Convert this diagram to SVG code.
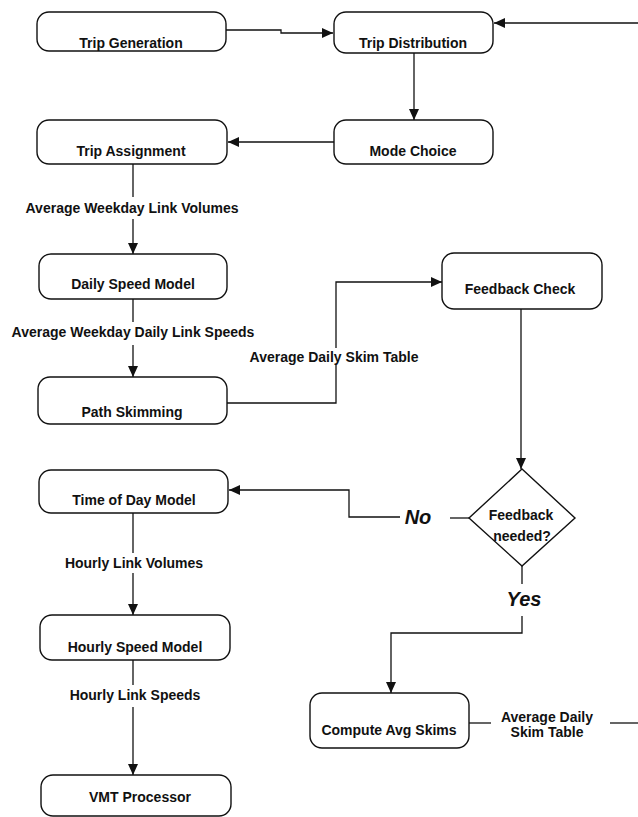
<svg xmlns="http://www.w3.org/2000/svg" width="638" height="817" viewBox="0 0 638 817">
<style>
.box{fill:#fff;stroke:#111;stroke-width:1.4}
.t{font-family:"Liberation Sans",Arial,sans-serif;font-weight:bold;font-size:14px;fill:#111;text-anchor:middle}
.yn{font-family:"Liberation Sans",Arial,sans-serif;font-weight:bold;font-style:italic;font-size:20px;fill:#111;text-anchor:middle}
.c{fill:none;stroke:#111;stroke-width:1.3}
</style>
<defs>
<marker id="ah" markerUnits="userSpaceOnUse" markerWidth="12" markerHeight="10" refX="11" refY="5" orient="auto">
<path d="M0,0 L11,5 L0,10 z" fill="#111"/>
</marker>
</defs>
<rect width="638" height="817" fill="#fff"/>
<g id="connectors">
<path class="c" d="M226,30 H281 V33 H333" marker-end="url(#ah)"/>
<path class="c" d="M638,23 H494" marker-end="url(#ah)"/>
<path class="c" d="M414,53 V120" marker-end="url(#ah)"/>
<path class="c" d="M334,142 H228" marker-end="url(#ah)"/>
<path class="c" d="M133,164 V197"/>
<path class="c" d="M133,219 V254" marker-end="url(#ah)"/>
<path class="c" d="M133,299 V322"/>
<path class="c" d="M133,345 V377" marker-end="url(#ah)"/>
<path class="c" d="M227,403 H336 V365"/>
<path class="c" d="M336,348 V282 H442" marker-end="url(#ah)"/>
<path class="c" d="M521,309 V469" marker-end="url(#ah)"/>
<path class="c" d="M469,518 H450"/>
<path class="c" d="M400,517 H349 V490 H229" marker-end="url(#ah)"/>
<path class="c" d="M522,566 V584"/>
<path class="c" d="M522,616 V633 H391 V693" marker-end="url(#ah)"/>
<path class="c" d="M469,723 H491"/>
<path class="c" d="M610,723 H638"/>
<path class="c" d="M133,513 V553"/>
<path class="c" d="M133,573 V615" marker-end="url(#ah)"/>
<path class="c" d="M133,660 V685"/>
<path class="c" d="M133,707 V775" marker-end="url(#ah)"/>
<text class="t" x="132" y="213">Average Weekday Link Volumes</text>
<text class="t" x="133" y="337">Average Weekday Daily Link Speeds</text>
<text class="t" x="334" y="362">Average Daily Skim Table</text>
<text class="t" x="134" y="568">Hourly Link Volumes</text>
<text class="t" x="135" y="700">Hourly Link Speeds</text>
<text class="t" x="547" y="722">Average Daily</text>
<text class="t" x="547" y="737">Skim Table</text>
<text class="yn" x="418" y="524">No</text>
<text class="yn" x="524" y="606">Yes</text>
</g>
<g id="trip-generation"><rect class="box" x="37" y="12" width="189" height="39" rx="12"/><text class="t" x="131" y="48">Trip Generation</text></g>
<g id="trip-distribution"><rect class="box" x="334" y="12" width="159" height="41" rx="12"/><text class="t" x="413" y="48">Trip Distribution</text></g>
<g id="mode-choice"><rect class="box" x="334" y="120" width="159" height="44" rx="12"/><text class="t" x="413" y="156">Mode Choice</text></g>
<g id="trip-assignment"><rect class="box" x="37" y="120" width="190" height="44" rx="12"/><text class="t" x="131" y="156">Trip Assignment</text></g>
<g id="daily-speed-model"><rect class="box" x="39" y="254" width="188" height="45" rx="12"/><text class="t" x="133" y="289">Daily Speed Model</text></g>
<g id="feedback-check"><rect class="box" x="442" y="253" width="160" height="56" rx="12"/><text class="t" x="520" y="294">Feedback Check</text></g>
<g id="path-skimming"><rect class="box" x="38" y="377" width="189" height="47" rx="12"/><text class="t" x="132" y="417">Path Skimming</text></g>
<g id="feedback-needed"><polygon class="box" points="522,469 575,518 522,566 469,518"/><text class="t" x="521" y="520">Feedback</text><text class="t" x="522" y="541">needed?</text></g>
<g id="time-of-day-model"><rect class="box" x="39" y="470" width="189" height="43" rx="12"/><text class="t" x="134" y="505">Time of Day Model</text></g>
<g id="hourly-speed-model"><rect class="box" x="40" y="615" width="190" height="45" rx="12"/><text class="t" x="135" y="652">Hourly Speed Model</text></g>
<g id="vmt-processor"><rect class="box" x="41" y="775" width="190" height="41" rx="12"/><text class="t" x="140" y="802">VMT Processor</text></g>
<g id="compute-avg-skims"><rect class="box" x="310" y="693" width="159" height="55" rx="12"/><text class="t" x="389" y="735">Compute Avg Skims</text></g>
</svg>
